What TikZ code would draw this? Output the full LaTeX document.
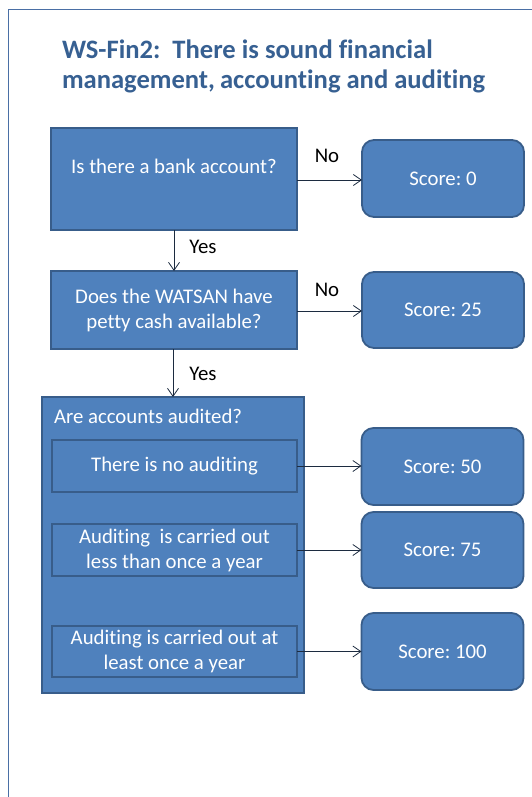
\documentclass[tikz,border=0pt]{standalone}
\usepackage{fontspec}
\setmainfont{Carlito}[Ligatures=NoCommon]
\usetikzlibrary{arrows.meta}
\definecolor{boxfill}{HTML}{4F81BD}
\definecolor{boxline}{HTML}{385D8A}
\definecolor{titleblue}{HTML}{376092}
\definecolor{framecol}{HTML}{4A6FA5}
\definecolor{linkcol}{HTML}{1C2B40}
\frenchspacing
\begin{document}
\begin{tikzpicture}[x=1pt,y=-1pt,
  every node/.style={inner sep=0pt,outer sep=0pt},
  body/.style={font=\fontsize{20.8}{25}\selectfont},
  qbox/.style={body,draw=boxline,line width=1.8pt,fill=boxfill,text=white,align=center},
  scorebox/.style={qbox,rounded corners=12pt,minimum width=162pt,minimum height=77pt},
  lbl/.style={body,text=black},
  heading/.style={anchor=base west,text=titleblue,font=\fontsize{26.6}{30}\selectfont\bfseries},
  link/.style={draw=linkcol,line width=0.8pt,-{Straight Barb[length=8pt,width=11pt,line width=0.8pt]}}
]
\useasboundingbox (0,0) rectangle (532,797);
% open frame
\draw[framecol,line width=1pt] (532,10) -- (8,10) -- (8,797);
% heading, two lines
\node[heading] (title1) at (62,59) {WS-Fin2:\ \ There is sound financial};
\node[heading] (title2) at (62,89) {management,\kern-1pt\ accounting and auditing};
% first question and outcome
\node[qbox,minimum width=246pt,minimum height=102pt] (q1) at (174,179) {Is there a bank account?\\\phantom{X}};
\node[scorebox] (s0) at (443,178.5) {Score: 0};
% second question and outcome
\node[qbox,minimum width=246pt,minimum height=78pt] (q2) at (174,310) {Does the WATSAN have\\petty cash available?};
\node[scorebox,minimum height=76pt] (s25) at (443,310) {Score: 25};
% auditing group
\node[qbox,minimum width=262pt,minimum height=296pt] (q3) at (173,545) {};
\node[body,anchor=west,text=white] (q3t) at (54,416) {Are accounts audited?};
\node[qbox,minimum width=245pt,minimum height=52pt] (a1) at (174.5,466) {There is no auditing};
\node[qbox,minimum width=245pt,minimum height=52pt] (a2) at (174.5,550) {Auditing\ \ is carried out\\less than once a year};
\node[qbox,minimum width=245pt,minimum height=51pt] (a3) at (174.5,651.5) {Auditing is carried out at\\least once a year};
\node[scorebox] (s50) at (442.5,466.5) {Score: 50};
\node[scorebox,minimum height=76pt] (s75) at (442.5,550) {Score: 75};
\node[scorebox] (s100) at (442.5,651.5) {Score: 100};
% connectors
\draw[link] (q1.east |- 0,180) -- (s0.west |- 0,180);
\draw[link] (q1.south) -- (q2.north);
\draw[link] (q2.east |- 0,311) -- (s25.west |- 0,311);
\draw[link] (q2.south -| q3.north) -- (q3.north);
\draw[link] (a1.east) -- (s50.west |- a1.east);
\draw[link] (a2.east) -- (s75.west |- a2.east);
\draw[link] (a3.east) -- (s100.west |- a3.east);
% branch labels
\node[lbl] (no1) at (327,156) {No};
\node[lbl] (yes1) at (203,247) {Yes};
\node[lbl] (no2) at (327,290) {No};
\node[lbl] (yes2) at (203,374) {Yes};
\end{tikzpicture}
\end{document}
